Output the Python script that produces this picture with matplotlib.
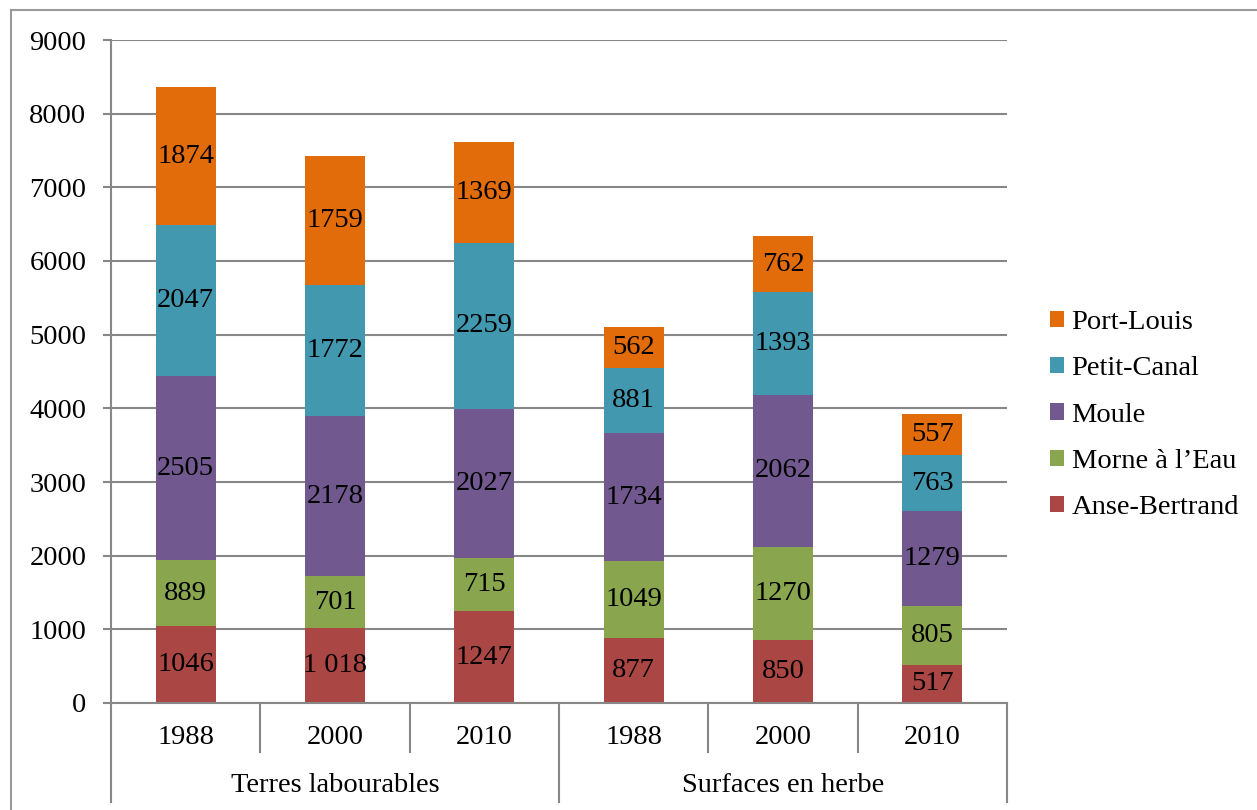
import matplotlib.pyplot as plt
from matplotlib.lines import Line2D
from matplotlib.patches import Patch
import numpy as np

# Data (bottom to top in each stack)
groups = ["Terres labourables", "Surfaces en herbe"]
years = ["1988", "2000", "2010", "1988", "2000", "2010"]
communes = ["Anse-Bertrand", "Morne à l\u2019Eau", "Moule", "Petit-Canal", "Port-Louis"]
anse_bertrand = [1046, 1018, 1247, 877, 850, 517]
morne_a_leau = [889, 701, 715, 1049, 1270, 805]
moule = [2505, 2178, 2027, 1734, 2062, 1279]
petit_canal = [2047, 1772, 2259, 881, 1393, 763]
port_louis = [1874, 1759, 1369, 562, 762, 557]
# label shown for Anse-Bertrand 2000 uses a thousands space
anse_labels = ["1046", "1 018", "1247", "877", "850", "517"]

colors = ["#AA4643", "#89A54E", "#71588F", "#4198AF", "#E36C0A"]
grid_c = "#878787"
font = "Liberation Serif"
fs = 20.5

plt.rcParams["font.family"] = font

fig = plt.figure(figsize=(12.57, 8.10), dpi=100)
ax = fig.add_axes([111 / 1257, 1 - 703 / 810, (1007 - 111) / 1257, (703 - 40) / 810])

series = [anse_bertrand, morne_a_leau, moule, petit_canal, port_louis]
x = np.arange(len(years)) + 0.5
bottom = np.zeros(len(years))
for i, vals in enumerate(series):
    vals = np.array(vals)
    ax.bar(x, vals, width=0.4, bottom=bottom, color=colors[i], zorder=3)
    labels = anse_labels if i == 0 else [str(v) for v in vals]
    for xi, b, v, lab in zip(x, bottom, vals, labels):
        ax.text(xi, b + v / 2, lab, ha="center", va="center", fontsize=fs, zorder=4)
    bottom += vals

ax.set_xlim(0, 6)
ax.set_ylim(0, 9000)
ax.set_yticks(range(0, 9001, 1000))
ax.yaxis.grid(True, color=grid_c, linewidth=1.5, zorder=0)
ax.tick_params(axis="y", length=5.8, width=1.5, color=grid_c, labelsize=fs, pad=12)
ax.tick_params(axis="x", bottom=False, labelbottom=False)
for s in ["top", "right", "bottom"]:
    ax.spines[s].set_visible(False)
ax.spines["left"].set_color(grid_c)
ax.spines["left"].set_linewidth(1.5)

# two-level category axis
tr = ax.get_xaxis_transform()
h = 703 - 40
y_year = -(737 - 703) / h
y_group = -(785 - 703) / h
y_short = -(752 - 703) / h
y_long = -(802 - 703) / h
ax.plot([0, 6], [0, 0], transform=tr, color=grid_c, lw=1.5, clip_on=False, zorder=5)
for xs in range(7):
    yend = y_long if xs in (0, 3, 6) else y_short
    ax.plot([xs, xs], [0, yend], transform=tr, color=grid_c, lw=1.5, clip_on=False)
for xi, yr in zip(x, years):
    ax.text(xi, y_year, yr, transform=tr, ha="center", va="center", fontsize=fs)
for gi, g in enumerate(groups):
    ax.text(1.5 + 3 * gi, y_group, g, transform=tr, ha="center", va="center", fontsize=fs)

# legend (Port-Louis on top)
handles = [Patch(facecolor=colors[i], label=communes[i]) for i in range(4, -1, -1)]
fig.legend(handles=handles, loc="center left", bbox_to_anchor=(1036 / 1257, 1 - 415 / 810),
           frameon=False, fontsize=fs, handlelength=0.5, handleheight=0.5,
           handletextpad=0.25, labelspacing=0.75, borderpad=0)

# outer chart frame (top and left edges visible)
fig.add_artist(Line2D([11 / 1257, 1], [1 - 10 / 810, 1 - 10 / 810], color="#9a9a9a", lw=1.5))
fig.add_artist(Line2D([11 / 1257, 11 / 1257], [0, 1 - 10 / 810], color="#9a9a9a", lw=1.5))

fig.savefig("out.png", dpi=100)
